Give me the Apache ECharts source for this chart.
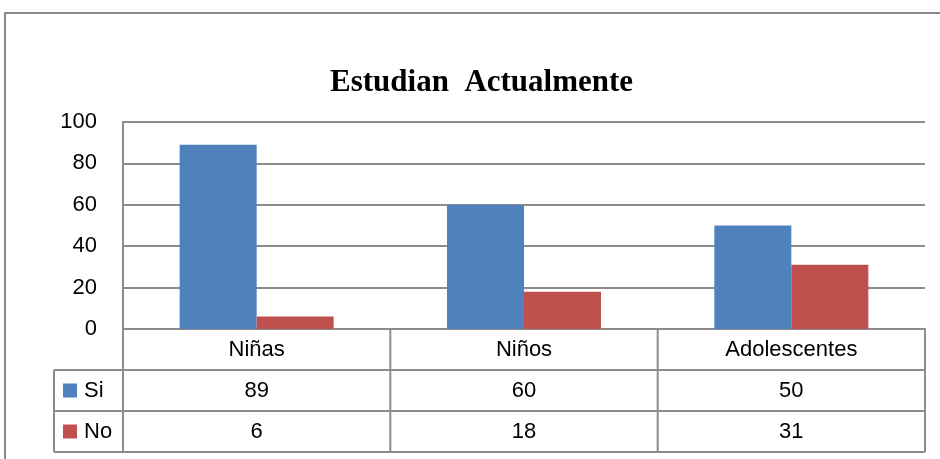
<!DOCTYPE html>
<html>
<head>
<meta charset="utf-8">
<script src="https://cdn.jsdelivr.net/npm/echarts@6/dist/echarts.min.js"></script>
<style>
  html, body { margin: 0; padding: 0; background: #fff; }
  #chart { width: 940px; height: 459px; }
</style>
</head>
<body>
<div id="chart"></div>
<script>
var categories = ['Niñas', 'Niños', 'Adolescentes'];
var seriesNames = ['Si', 'No'];
var siValues = [89, 60, 50];
var noValues = [6, 18, 31];
var colors = ['#4F81BD', '#C0504D'];

var chart = echarts.init(document.getElementById('chart'));

var gridLeft = 123, gridTop = 122, gridRight = 925, gridBottom = 329;
var rowH = 41;
var lineColor = '#8c8c8c';
var tableFont = '22px "Liberation Sans", Arial, sans-serif';

chart.setOption({
    animation: false,
    title: {
        text: 'Estudian  Actualmente',
        left: 325,
        top: 62,
        textStyle: {
            fontFamily: '"Liberation Serif", "Times New Roman", serif',
            fontWeight: 'bold',
            fontSize: 31,
            color: '#000'
        }
    },
    grid: {
        left: gridLeft,
        top: gridTop,
        right: 940 - gridRight,
        bottom: 459 - gridBottom,
        containLabel: false
    },
    xAxis: {
        type: 'category',
        data: categories,
        axisLine: { show: true, lineStyle: { color: lineColor, width: 2 } },
        axisTick: { show: false },
        axisLabel: { show: false }
    },
    yAxis: {
        type: 'value',
        min: 0,
        max: 100,
        interval: 20,
        axisLine: { show: true, lineStyle: { color: lineColor, width: 2 } },
        axisTick: { show: false },
        axisLabel: {
            margin: 26,
            fontSize: 22,
            fontFamily: '"Liberation Sans", Arial, sans-serif',
            color: '#000'
        },
        splitLine: { lineStyle: { color: lineColor, width: 2 } }
    },
    series: [{
        name: seriesNames[0],
        type: 'bar',
        data: siValues,
        barWidth: 77,
        barGap: '0%',
        itemStyle: { color: colors[0] }
    }, {
        name: seriesNames[1],
        type: 'bar',
        data: noValues,
        barWidth: 77,
        barGap: '0%',
        itemStyle: { color: colors[1] }
    }]
});

// tabla de datos debajo del eje
function buildTable() {
    var g = [];
    var x0 = 54;
    var y0 = gridBottom;
    var yEnd = y0 + rowH * 3;
    var colW = (gridRight - gridLeft) / categories.length;

    // borde exterior del grafico
    g.push({ type: 'rect', shape: { x: 5, y: 13, width: 980, height: 480 },
        style: { fill: null, stroke: '#888', lineWidth: 2 }, silent: true });

    // lineas horizontales
    g.push({ type: 'line', shape: { x1: gridLeft, y1: y0 + rowH, x2: gridRight, y2: y0 + rowH },
        style: { stroke: lineColor, lineWidth: 2 } });
    g.push({ type: 'line', shape: { x1: x0, y1: y0 + rowH, x2: gridLeft, y2: y0 + rowH },
        style: { stroke: lineColor, lineWidth: 2 } });
    g.push({ type: 'line', shape: { x1: x0, y1: y0 + rowH * 2, x2: gridRight, y2: y0 + rowH * 2 },
        style: { stroke: lineColor, lineWidth: 2 } });
    g.push({ type: 'line', shape: { x1: x0, y1: yEnd, x2: gridRight, y2: yEnd },
        style: { stroke: lineColor, lineWidth: 2 } });
    // lineas verticales
    g.push({ type: 'line', shape: { x1: x0, y1: y0 + rowH, x2: x0, y2: yEnd },
        style: { stroke: lineColor, lineWidth: 2 } });
    for (var i = 0; i <= categories.length; i++) {
        var xx = gridLeft + colW * i;
        g.push({ type: 'line', shape: { x1: xx, y1: y0, x2: xx, y2: yEnd },
            style: { stroke: lineColor, lineWidth: 2 } });
    }

    var rows = [siValues, noValues];
    categories.forEach(function(c, i) {
        var cx = chart.convertToPixel({ xAxisIndex: 0 }, i);
        g.push({ type: 'text', x: cx, y: y0 + rowH / 2,
            style: { text: c, font: tableFont, fill: '#000', align: 'center', verticalAlign: 'middle' } });
        rows.forEach(function(r, k) {
            g.push({ type: 'text', x: cx, y: y0 + rowH * (k + 1) + rowH / 2,
                style: { text: String(r[i]), font: tableFont, fill: '#000', align: 'center', verticalAlign: 'middle' } });
        });
    });

    // leyenda en la tabla
    seriesNames.forEach(function(n, k) {
        var cy = y0 + rowH * (k + 1) + rowH / 2;
        g.push({ type: 'rect', shape: { x: 63, y: cy - 7, width: 14, height: 14 },
            style: { fill: colors[k] } });
        g.push({ type: 'text', x: 84, y: cy,
            style: { text: n, font: tableFont, fill: '#000', align: 'left', verticalAlign: 'middle' } });
    });

    chart.setOption({ graphic: g });
}
buildTable();
</script>
</body>
</html>
